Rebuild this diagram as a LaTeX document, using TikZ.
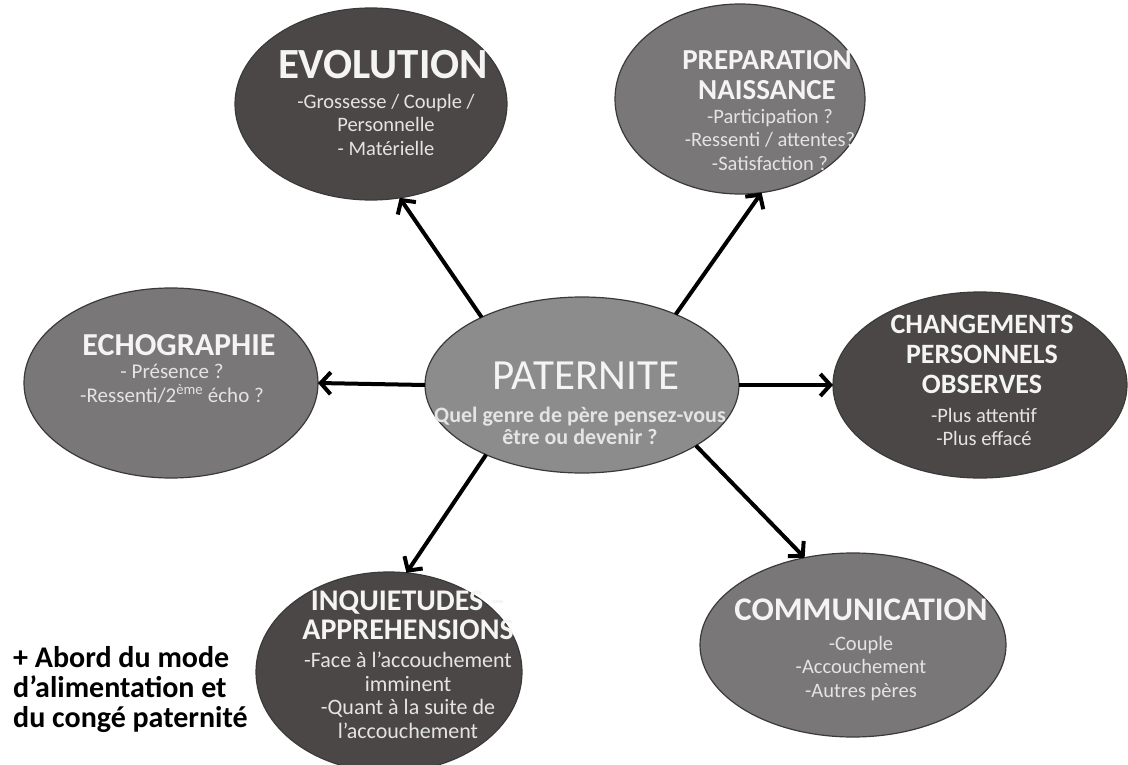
\documentclass[tikz,border=0pt]{standalone}
\usepackage{fontspec}
\setmainfont{Carlito}
\usetikzlibrary{shapes.geometric,arrows.meta}
\definecolor{darkell}{HTML}{4B4747}
\definecolor{midell}{HTML}{797777}
\definecolor{lightell}{HTML}{8C8C8C}
\definecolor{edgegray}{HTML}{3A3A3A}
\definecolor{txtw}{HTML}{F4F4F4}
\definecolor{txtb}{HTML}{E4E4E4}
\tikzset{
  ell/.style={ellipse, draw=edgegray, line width=1.2pt, inner sep=0pt, outer sep=0pt},
  darkfill/.style={ell, fill=darkell},
  midfill/.style={ell, fill=midell},
  lightfill/.style={ell, fill=lightell},
  ttl/.style={anchor=north, inner sep=0pt, align=center, text=txtw, font=\bfseries\fontsize{30}{30}\selectfont},
  bdy/.style={anchor=north, inner sep=0pt, align=center, text=txtb, font=\fontsize{20.5}{23.5}\selectfont},
  arr/.style={line width=4pt, -{Straight Barb[length=10pt,width=22pt,line width=4pt]}}
}
\begin{document}
\begin{tikzpicture}[x=1pt,y=-1pt]
\fill[white] (0,0) rectangle (1128,765);
\useasboundingbox (0,0) rectangle (1128,765);

% ellipses
\node[darkfill, minimum width=272pt, minimum height=192pt] (evo) at (371,104) {};
\node[midfill, minimum width=250pt, minimum height=190pt] (prep) at (740,99) {};
\node[midfill, minimum width=294pt, minimum height=190pt] (echo) at (171,383) {};
\node[lightfill, minimum width=314pt, minimum height=176pt] (pat) at (582,385) {};
\node[darkfill, minimum width=294pt, minimum height=186pt] (chg) at (980,385) {};
\node[darkfill, minimum width=266pt, minimum height=200pt] (inq) at (389,672) {};
\node[midfill, minimum width=306pt, minimum height=184pt] (comm) at (853,645) {};

% texts
\node[ttl, font=\bfseries\fontsize{43}{44}\selectfont] (evoT) at (383,50) {EVOLUTION};
\node[bdy] (evoB) at (386,94) {-Grossesse / Couple /\\Personnelle\\- Matérielle};

\node[ttl, font=\bfseries\fontsize{29}{30}\selectfont] (prepT) at (767,50) {PREPARATION\\NAISSANCE};
\node[bdy] (prepB) at (770,109) {-Participation ?\\-Ressenti / attentes?\\-Satisfaction ?};

\node[ttl, font=\bfseries\fontsize{32}{32}\selectfont] (echoT) at (179,334) {ECHOGRAPHIE};
\node[bdy, font=\fontsize{21}{23.5}\selectfont] (echoB) at (172,364) {- Présence ?\\-Ressenti/2\textsuperscript{ème} écho ?};

\node[ttl, font=\fontsize{43}{44}\selectfont] (patT) at (586,362) {PATERNITE};
\node[bdy, font=\bfseries\fontsize{22}{22}\selectfont] (patB) at (580,407) {Quel genre de père pensez-vous\\être ou devenir ?};

\node[ttl, font=\bfseries\fontsize{28}{30}\selectfont] (chgT) at (982,315) {CHANGEMENTS\\PERSONNELS\\OBSERVES};
\node[bdy] (chgB) at (984,408) {-Plus attentif\\-Plus effacé};

\node[ttl, font=\bfseries\fontsize{30}{29}\selectfont] (inqT) at (408,591) {INQUIETUDES \textendash\\APPREHENSIONS};
\node[bdy, font=\fontsize{22}{23.5}\selectfont] (inqB) at (408,652) {-Face à l’accouchement\\imminent\\-Quant à la suite de\\l’accouchement};

\node[ttl, font=\bfseries\fontsize{33}{33}\selectfont] (commT) at (861,599) {COMMUNICATION};
\node[bdy] (commB) at (861,636) {-Couple\\-Accouchement\\-Autres pères};

\node[anchor=north west, inner sep=0pt, align=left, font=\bfseries\fontsize{30}{30}\selectfont] (note) at (13,646) {+ Abord du mode\\d’alimentation et\\du congé paternité};

% arrows
\draw[arr] (pat.146) -- (evo.287);
\draw[arr] (pat.37) -- (prep.283);
\draw[arr] (pat.180) -- (echo.0);
\draw[arr] (pat.0) -- (chg.180);
\draw[arr] (pat.216) -- (inq.80);
\draw[arr] (pat.332) -- (comm.119);
\end{tikzpicture}
\end{document}
